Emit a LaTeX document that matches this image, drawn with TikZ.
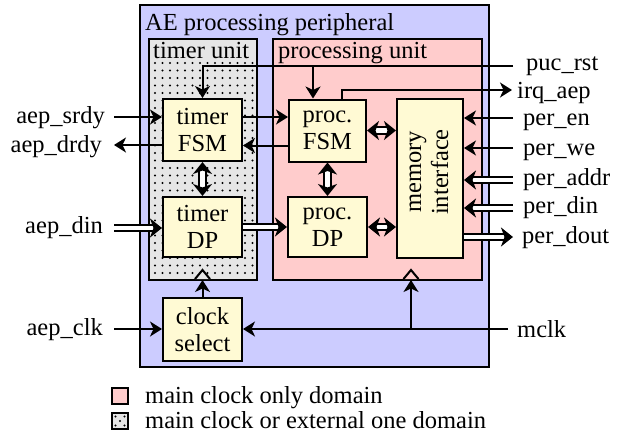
\documentclass[tikz,border=0pt]{standalone}
\usepackage{fontspec}
\setmainfont{Liberation Serif}
\usetikzlibrary{arrows.meta,calc}
\definecolor{outerblue}{HTML}{CCCCFF}
\definecolor{procpink}{HTML}{FFCCCC}
\definecolor{timergray}{HTML}{E6E6E6}
\definecolor{blockyellow}{HTML}{FFFAD4}
\begin{document}
\begin{tikzpicture}[x=1pt,y=-1pt, font=\fontsize{24.5}{27}\selectfont,
  >={Stealth[length=12pt,width=15pt,inset=3.5pt]},
  wire/.style={line width=2pt},
  sig/.style={wire,->},
  bushead/.tip={Stealth[length=12pt,width=19pt,inset=3.5pt]},
  bus/.style={line width=1.8pt, double=white, double distance=4.5pt, -bushead},
  bbus/.style={line width=1.8pt, double=white, double distance=4.5pt, bushead-bushead},
  block/.style={draw, line width=2pt, fill=blockyellow, inner sep=0pt, align=center, minimum width=79pt, minimum height=62pt},
  lbl/.style={inner sep=0pt},
  unit/.style={draw, line width=2pt}
]
\useasboundingbox (0,0) rectangle (624,439);
% containers
\draw[line width=2.2pt, fill=outerblue] (140,5) rectangle (489,367);
\draw[unit, fill=timergray] (149,39) rectangle (257,280);
\draw[unit, fill=procpink] (273,39) rectangle (482,280);
\foreach \i in {0,...,13} \foreach \j in {0,...,28} \fill (155+7.5*\i, 63+7.5*\j) circle (1.05pt);
% titles
\node[lbl, anchor=base west] (title) at (145,30) {AE processing peripheral};
\node[lbl, anchor=base west] (tutitle) at (153,58) {timer unit};
\node[lbl, anchor=base west] (putitle) at (278,58) {processing unit};
% blocks
\node[block] (tfsm) at (202.5,130) {timer\\FSM};
\node[block, minimum height=60pt] (tdp) at (202.5,227) {timer\\DP};
\node[block, minimum width=77pt] (pfsm) at (327.5,130.5) {proc.\\FSM};
\node[block, minimum height=60pt] (pdp) at (327.5,227) {proc.\\DP};
\node[block, minimum width=66pt, minimum height=159pt] (mem) at (430,178.5) {};
\node[lbl, rotate=90, align=center] (memtxt) at (429,172) {memory\\interface};
\node[block, minimum height=63pt] (clk) at (202.5,329.5) {clock\\select};
% left signals
\coordinate (srdyS) at (114,117);
\node[lbl, anchor=base east] (srdyL) at (105,123) {aep\_srdy};
\draw[sig] (srdyS) -- (srdyS -| tfsm.west);
\coordinate (drdyE) at (114,145);
\node[lbl, anchor=base east] (drdyL) at (102,152) {aep\_drdy};
\draw[sig] (drdyE -| tfsm.west) -- (drdyE);
\coordinate (dinS) at (114,228);
\node[lbl, anchor=base east] (dinL) at (103,233) {aep\_din};
\draw[bus] (dinS) -- (dinS -| tdp.west);
\coordinate (clkS) at (114,329);
\node[lbl, anchor=base east] (clkL) at (103,335) {aep\_clk};
\draw[sig] (clkS) -- (clkS -| clk.west);
% inter-block
\draw[sig] ([yshift=13pt]tfsm.east) -- ([yshift=13pt]tfsm.east -| pfsm.west);
\draw[sig] ([yshift=-15pt]pfsm.west) -- ([yshift=-15pt]pfsm.west -| tfsm.east);
\draw[bbus] (tfsm) -- (tdp);
\draw[bbus] (pfsm) -- (pdp);
\draw[bbus] (pfsm.east) -- (pfsm.east -| mem.west);
\draw[bbus] (pdp.east) -- (pdp.east -| mem.west);
\draw[bus] (tdp.east) -- (pdp.west);
% puc_rst
\coordinate (pucS) at (513,66);
\coordinate (pucB) at (313,66);
\draw[sig] (pucS) -| (tfsm.north);
\draw[sig] (pucB) -- (pucB |- pfsm.north);
\node[lbl, anchor=base west] (pucL) at (526,70) {puc\_rst};
% irq
\coordinate (irqE) at (512,90);
\draw[sig] ([xshift=14.5pt]pfsm.north) |- (irqE);
\node[lbl, anchor=base west] (irqL) at (517,98) {irq\_aep};
% per
\coordinate (enS) at (513,118);
\draw[sig] (enS) -- (enS -| mem.east);
\node[lbl, anchor=base west] (enL) at (523,125) {per\_en};
\coordinate (weS) at (513,148);
\draw[sig] (weS) -- (weS -| mem.east);
\node[lbl, anchor=base west] (weL) at (523,155) {per\_we};
\coordinate (addrS) at (513,180);
\draw[bus] (addrS) -- (addrS -| mem.east);
\node[lbl, anchor=base west] (addrL) at (523,185) {per\_addr};
\coordinate (pdinS) at (513,208);
\draw[bus] (pdinS) -- (pdinS -| mem.east);
\node[lbl, anchor=base west] (pdinL) at (523,213) {per\_din};
\coordinate (doutE) at (513,237);
\draw[bus] (doutE -| mem.east) -- (doutE);
\node[lbl, anchor=base west] (doutL) at (522,243) {per\_dout};
% mclk
\coordinate (mclkS) at (508,329);
\coordinate (mclkB) at (411,329);
\coordinate (puBot) at (411,280);
\coordinate (tuBot) at (202.5,280);
\draw[sig] (mclkS) -- (mclkS -| clk.east);
\draw[sig] (mclkB) -- (puBot);
\draw[sig] (clk.north) -- (tuBot);
\node[lbl, anchor=base west] (mclkL) at (517,337) {mclk};
% clock ticks
\draw[wire, fill=procpink] (403.5,279) -- (411,270) -- (418.5,279);
\draw[wire, fill=timergray] (195,279) -- (202.5,270) -- (210,279);
% legend
\node[draw, line width=1.6pt, fill=procpink, minimum size=16pt, inner sep=0pt] (leg1) at (120,396) {};
\node[draw, line width=1.6pt, fill=timergray, minimum size=16pt, inner sep=0pt] (leg2) at (120,421) {};
\foreach \p in {(115.5,416.5),(124.5,416.5),(115.5,425.5),(124.5,425.5),(120,421)} \fill \p circle (1.05pt);
\node[lbl, anchor=base west] (leg1t) at (145,403) {main clock only domain};
\node[lbl, anchor=base west] (leg2t) at (145,428) {main clock or external one domain};
\end{tikzpicture}
\end{document}
